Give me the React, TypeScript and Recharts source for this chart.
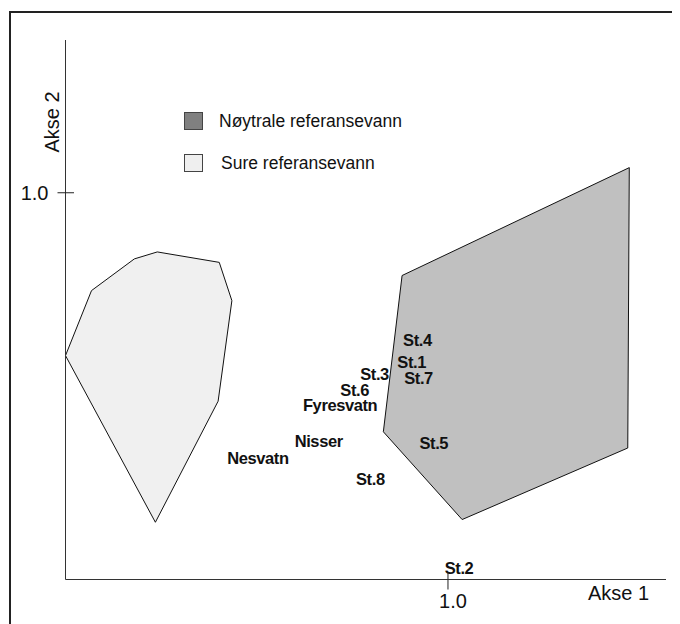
import { ScatterChart, Scatter, XAxis, YAxis, Legend } from 'recharts';

// Nøytrale referansevann (polygon hull)
const neutralX = [0.88, 1.474, 1.47, 1.037, 0.831];
const neutralY = [0.786, 1.065, 0.34, 0.155, 0.382];

// Sure referansevann (polygon hull)
const acidX = [0.0, 0.068, 0.18, 0.24, 0.402, 0.435, 0.399, 0.235];
const acidY = [0.579, 0.747, 0.829, 0.847, 0.82, 0.721, 0.461, 0.148];

// stations / lakes
const siteNames = ['St.4', 'St.1', 'St.3', 'St.7', 'St.6', 'Fyresvatn', 'Nisser', 'St.5', 'St.8', 'Nesvatn', 'St.2'];
const siteX = [0.92, 0.905, 0.808, 0.923, 0.756, 0.718, 0.662, 0.963, 0.797, 0.503, 1.029];
const siteY = [0.62, 0.563, 0.531, 0.522, 0.49, 0.451, 0.357, 0.354, 0.261, 0.315, 0.029];

const ticksX = [1.0];
const ticksY = [1.0];

const legendItems = [
  { label: 'Nøytrale referansevann', fill: '#808080' },
  { label: 'Sure referansevann', fill: '#efefef' },
];

const neutral = neutralX.map((x, i) => ({ x, y: neutralY[i] }));
const acid = acidX.map((x, i) => ({ x, y: acidY[i] }));
const sites = siteNames.map((name, i) => ({ name, x: siteX[i], y: siteY[i] }));

const FONT = 'Arial, "Liberation Sans", sans-serif';

const hull = (fill: string) => (p: any) => (
  <path
    d={'M' + p.points.map((pt: any) => `${pt.x},${pt.y}`).join('L') + 'Z'}
    fill={fill}
    stroke="#111"
    strokeWidth={1}
  />
);

const XTick = ({ x, y, payload }: any) => (
  <g>
    <line x1={x} x2={x} y1={y - 7} y2={y + 10} stroke="#222" />
    <text x={x + 5} y={y + 21} textAnchor="middle" dominantBaseline="central" fontSize={20} fontFamily={FONT} fill="#111">
      {payload.value.toFixed(1)}
    </text>
  </g>
);

const YTick = ({ x, y, payload }: any) => (
  <g>
    <line x1={x - 8} x2={x + 8.5} y1={y} y2={y} stroke="#222" />
    <text x={x - 17} y={y} textAnchor="end" dominantBaseline="central" fontSize={20} fontFamily={FONT} fill="#111">
      {payload.value.toFixed(1)}
    </text>
  </g>
);

const SiteLabel = (p: any) => (
  <text
    x={p.cx}
    y={p.cy}
    textAnchor="middle"
    dominantBaseline="central"
    fontSize={16.5}
    fontWeight="bold"
    fontFamily={FONT}
    fill="#111"
    letterSpacing={-0.4}
  >
    {p.payload.name}
  </text>
);

const LegendBox = () => (
  <div style={{ position: 'relative', width: 260, height: 80, fontFamily: FONT, fontSize: 17.5, color: '#111' }}>
    {legendItems.map((it, i) => (
      <div key={it.label} style={{ position: 'absolute', left: 0, top: i * 42, display: 'flex', alignItems: 'center', height: 18 }}>
        <span style={{ width: 17, height: 16, background: it.fill, border: '1px solid #444', display: 'inline-block' }} />
        <span style={{ marginLeft: i === 0 ? 16 : 18, whiteSpace: 'nowrap', lineHeight: '18px' }}>{it.label}</span>
      </div>
    ))}
  </div>
);

export default function App() {
  return (
    <div style={{ position: 'relative', width: 672, height: 616, overflow: 'hidden', background: '#fff' }}>
      <div
        style={{
          position: 'absolute',
          left: 1,
          top: 3,
          width: 900,
          height: 900,
          borderTop: '2px solid #222',
          borderLeft: '2px solid #222',
        }}
      />
      <div style={{ position: 'absolute', left: 0, top: 0 }}>
        <ScatterChart width={664} height={608} margin={{ top: 32, right: 6, bottom: 6.5, left: 7.5 }}>
          <XAxis
            type="number"
            dataKey="x"
            domain={[0, 1.57]}
            allowDataOverflow
            ticks={ticksX}
            tick={<XTick />}
            tickSize={0}
            tickMargin={0}
            tickLine={false}
            axisLine={{ stroke: '#333' }}
            height={30}
            label={() => (
              <text x={580} y={585} dominantBaseline="central" fontSize={20} fontFamily={FONT} fill="#111">
                Akse 1
              </text>
            )}
          />
          <YAxis
            type="number"
            dataKey="y"
            domain={[0, 1.395]}
            allowDataOverflow
            ticks={ticksY}
            tick={<YTick />}
            tickSize={0}
            tickMargin={0}
            tickLine={false}
            axisLine={{ stroke: '#333' }}
            width={50}
            label={() => (
              <text
                x={44}
                y={114}
                transform="rotate(-90 44 114)"
                textAnchor="middle"
                dominantBaseline="central"
                fontSize={20}
                fontFamily={FONT}
                fill="#111"
              >
                Akse 2
              </text>
            )}
          />
          <Legend
            layout="horizontal"
            verticalAlign="middle"
            align="center"
            content={() => <LegendBox />}
            wrapperStyle={{ left: 176, top: 104, width: 260, height: 80 }}
          />
          <Scatter
            name="Nøytrale referansevann"
            data={neutral}
            fill="#c0c0c0"
            line={hull('#c0c0c0')}
            shape={() => <g />}
            isAnimationActive={false}
          />
          <Scatter
            name="Sure referansevann"
            data={acid}
            fill="#f0f0f0"
            line={hull('#f0f0f0')}
            shape={() => <g />}
            isAnimationActive={false}
          />
          <Scatter name="Stasjoner" data={sites} fill="#111" shape={SiteLabel} legendType="none" isAnimationActive={false} />
        </ScatterChart>
      </div>
    </div>
  );
}
